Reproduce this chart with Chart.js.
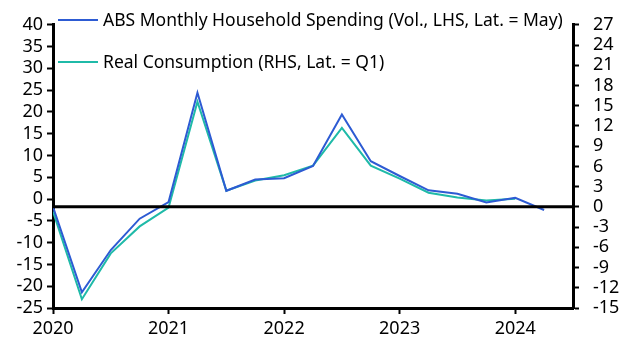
<!DOCTYPE html>
<html>
<head>
<meta charset="utf-8">
<script src="https://cdn.jsdelivr.net/npm/chart.js@4"></script>
<style>
  html, body { margin: 0; padding: 0; background: #fff; }
  #wrap { width: 630px; height: 355px; }
</style>
</head>
<body>
<div id="wrap"><canvas id="c" width="630" height="355"></canvas></div>
<script>
// Quarter positions (decimal years)
const quarters = [2020.0, 2020.25, 2020.5, 2020.75, 2021.0, 2021.25, 2021.5, 2021.75,
                  2022.0, 2022.25, 2022.5, 2022.75, 2023.0, 2023.25, 2023.5, 2023.75,
                  2024.0, 2024.25];
// ABS Monthly Household Spending (LHS)
const absSpending = [-1.8, -21.4, -11.7, -4.5, -0.7, 24.4, 1.9, 4.5,
                     4.8, 7.6, 19.4, 8.7, 5.3, 2.0, 1.2, -0.8,
                     0.3, -2.5];
// Real Consumption (RHS)
const realConsumption = [-0.7, -13.7, -6.9, -2.9, -0.1, 15.6, 2.4, 3.9,
                         4.7, 6.1, 11.7, 6.1, 4.2, 2.1, 1.4, 0.95,
                         1.2];
const xTicks = [2020, 2021, 2022, 2023, 2024];
const leftTicks = [40, 35, 30, 25, 20, 15, 10, 5, 0, -5, -10, -15, -20, -25];
const rightTicks = [27, 24, 21, 18, 15, 12, 9, 6, 3, 0, -3, -6, -9, -12, -15];
const legendLabels = ['ABS Monthly Household Spending (Vol., LHS, Lat. = May)',
                      'Real Consumption (RHS, Lat. = Q1)'];
const BLUE = '#2d5bd3';
const TEAL = '#1fbaa8';

const FONT = 'Noto Sans';

function pts(vals) { return vals.map((v, i) => ({ x: quarters[i], y: v })); }

const zeroLine = {
  id: 'zeroLine',
  afterDatasetsDraw(chart) {
    const { ctx, chartArea, scales } = chart;
    const y = scales.y2.getPixelForValue(0);
    ctx.save();
    ctx.strokeStyle = '#000';
    ctx.lineWidth = 3;
    ctx.beginPath();
    ctx.moveTo(chartArea.left, y);
    ctx.lineTo(chartArea.right, y);
    ctx.stroke();
    ctx.restore();
  }
};

const legendPlugin = {
  id: 'insideLegend',
  afterDraw(chart) {
    const { ctx } = chart;
    const colors = [BLUE, TEAL];
    const rowsY = [20, 62];
    ctx.save();
    ctx.font = '17.5px "' + FONT + '"';
    ctx.textBaseline = 'middle';
    ctx.textAlign = 'left';
    legendLabels.forEach((t, i) => {
      ctx.strokeStyle = colors[i];
      ctx.lineWidth = 2;
      ctx.beginPath();
      ctx.moveTo(58, rowsY[i]);
      ctx.lineTo(98, rowsY[i]);
      ctx.stroke();
      ctx.fillStyle = '#000';
      ctx.fillText(t, 103, rowsY[i] + 1);
    });
    ctx.restore();
  }
};

const tickStyle = { color: '#000', font: { family: FONT, size: 18 }, autoSkip: false };

new Chart(document.getElementById('c'), {
  type: 'line',
  data: {
    datasets: [
      { label: legendLabels[0], data: pts(absSpending), yAxisID: 'y',
        borderColor: BLUE, borderWidth: 2, pointRadius: 0, tension: 0, fill: false },
      { label: legendLabels[1], data: pts(realConsumption), yAxisID: 'y2',
        borderColor: TEAL, borderWidth: 2, pointRadius: 0, tension: 0, fill: false }
    ]
  },
  options: {
    responsive: false,
    animation: false,
    events: [],
    layout: { padding: { top: 15, left: 0, right: 0, bottom: 0 } },
    plugins: { legend: { display: false }, tooltip: { enabled: false } },
    scales: {
      x: {
        type: 'linear', min: 2020, max: 2024.5,
        afterBuildTicks(s) { s.ticks = xTicks.map(v => ({ value: v })); },
        afterFit(s) { s.height = 47; },
        ticks: Object.assign({}, tickStyle, { padding: 4, maxRotation: 0, callback: v => String(v) }),
        grid: { drawOnChartArea: false, drawTicks: true, tickLength: 6, tickWidth: 2, tickColor: '#000' },
        border: { color: '#000', width: 3 }
      },
      y: {
        position: 'left', min: -25, max: 40,
        afterBuildTicks(s) { s.ticks = leftTicks.map(v => ({ value: v })); },
        afterFit(s) { s.width = 53; },
        ticks: Object.assign({}, tickStyle, { padding: 4 }),
        grid: { drawOnChartArea: false, drawTicks: true, tickLength: 6, tickWidth: 2, tickColor: '#000' },
        border: { color: '#000', width: 3 }
      },
      y2: {
        position: 'right', min: -15, max: 27,
        afterBuildTicks(s) { s.ticks = rightTicks.map(v => ({ value: v })); },
        afterFit(s) { s.width = 57; },
        ticks: Object.assign({}, tickStyle, { padding: 14 }),
        grid: { drawOnChartArea: false, drawTicks: true, tickLength: 6, tickWidth: 2, tickColor: '#000' },
        border: { color: '#000', width: 3 }
      }
    }
  },
  plugins: [zeroLine, legendPlugin]
});
</script>
</body>
</html>
